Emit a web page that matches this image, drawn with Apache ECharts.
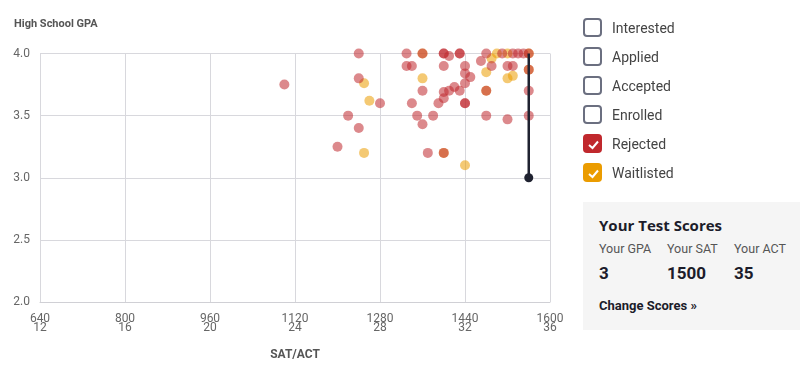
<!DOCTYPE html>
<html>
<head>
<meta charset="utf-8">
<script src="https://cdn.jsdelivr.net/npm/echarts@6/dist/echarts.min.js"></script>
<style>
  body { margin: 0; background: #fff; font-family: Roboto, "Noto Sans", sans-serif; }
  #chart { position: absolute; left: 0; top: 0; width: 807px; height: 375px; }
  .legend { position: absolute; left: 583px; top: 13px; }
  .legend .row { height: 29px; display: flex; align-items: center; color: #444; font-size: 14px; }
  .box { width: 15px; height: 15px; border: 2px solid #6b6f80; border-radius: 4px; margin-right: 10px; position: relative; }
  .box.on { border-color: transparent; }
  .box svg { position: absolute; left: 1px; top: 1px; }
  .scores { position: absolute; left: 583px; top: 202px; width: 217px; height: 128px; background: #f5f5f5; }
  .scores .t { position: absolute; left: 16px; top: 13px; font-size: 15px; font-weight: bold; color: #1c1c2a; font-family: "Open Sans", Roboto, sans-serif; }
  .scores .c { position: absolute; top: 39px; font-size: 12.5px; color: #555; }
  .scores .v { position: absolute; top: 61px; font-size: 17px; font-weight: bold; color: #1c1c2a; }
  .scores .chg { position: absolute; left: 16px; top: 96px; font-size: 13px; font-weight: bold; color: #1c1c2a; }
</style>
</head>
<body>
<div id="chart"></div>
<div class="legend" id="legend"></div>
<div class="scores">
  <div class="t">Your Test Scores</div>
  <div class="c" style="left:16px">Your GPA</div>
  <div class="c" style="left:84px">Your SAT</div>
  <div class="c" style="left:151px">Your ACT</div>
  <div class="v" id="vGpa" style="left:16px"></div>
  <div class="v" id="vSat" style="left:84px"></div>
  <div class="v" id="vAct" style="left:151px"></div>
  <div class="chg">Change Scores »</div>
</div>
<script>
// legend entries and which are checked
var legendNames = ['Interested', 'Applied', 'Accepted', 'Enrolled', 'Rejected', 'Waitlisted'];
var legendOn = [false, false, false, false, true, true];
var legendColors = ['', '', '', '', '#c0282d', '#eb9c00'];

// axis ticks
var satTicks = [640, 800, 960, 1120, 1280, 1440, 1600];
var actTicks = [12, 16, 20, 24, 28, 32, 36];

// your scores
var yourGpa = 3;
var yourSat = 1500;
var yourAct = 35;

// rejected applicants [SAT, GPA]
var rejected = [
  [1100, 3.75], [1240, 4.0], [1330, 4.0], [1360, 4.0], [1400, 4.0], [1400, 4.0],
  [1410, 3.98], [1430, 4.0], [1430, 4.0], [1480, 4.0], [1510, 4.0], [1530, 4.0],
  [1540, 4.0], [1550, 4.0], [1560, 4.0], [1470, 3.94], [1240, 3.8], [1330, 3.9],
  [1340, 3.9], [1400, 3.9], [1440, 3.9], [1490, 3.9], [1520, 3.9], [1530, 3.9],
  [1560, 3.87], [1440, 3.84], [1450, 3.81], [1440, 3.76], [1420, 3.73], [1360, 3.7],
  [1410, 3.7], [1430, 3.7], [1480, 3.7], [1560, 3.7], [1400, 3.69], [1400, 3.64],
  [1280, 3.6], [1340, 3.6], [1390, 3.6], [1440, 3.6], [1440, 3.6], [1220, 3.5],
  [1350, 3.5], [1380, 3.5], [1480, 3.5], [1520, 3.47], [1560, 3.5], [1240, 3.4],
  [1360, 3.43], [1200, 3.25], [1370, 3.2], [1400, 3.2]
];

// waitlisted applicants [SAT, GPA]
var waitlisted = [
  [1250, 3.76], [1260, 3.62], [1250, 3.2], [1360, 4.0], [1500, 4.0], [1520, 4.0],
  [1560, 4.0], [1490, 3.96], [1560, 3.87], [1480, 3.85], [1360, 3.8], [1530, 3.82],
  [1520, 3.8], [1480, 3.7], [1400, 3.2], [1440, 3.1]
];

// legend (html)
var legHtml = '';
legendNames.forEach(function (n, i) {
  var box = legendOn[i]
    ? '<div class="box on" style="background:' + legendColors[i] + '"><svg width="15" height="15"><polyline points="3,8 6.5,11 12,4.5" fill="none" stroke="#fff" stroke-width="2"/></svg></div>'
    : '<div class="box"></div>';
  legHtml += '<div class="row">' + box + n + '</div>';
});
document.getElementById('legend').innerHTML = legHtml;
document.getElementById('vGpa').textContent = yourGpa;
document.getElementById('vSat').textContent = yourSat;
document.getElementById('vAct').textContent = yourAct;

// ACT converted onto SAT scale, use the higher one
var actAsSat = satTicks[0] + (yourAct - actTicks[0]) * (satTicks[1] - satTicks[0]) / (actTicks[1] - actTicks[0]);
var youX = Math.max(yourSat, actAsSat);

var chart = echarts.init(document.getElementById('chart'));
chart.setOption({
  animation: false,
  textStyle: { fontFamily: 'Roboto' },
  title: {
    text: 'High School GPA', left: 14, top: 19, padding: 0,
    textStyle: { fontSize: 11, fontWeight: 'bold', color: '#555' }
  },
  grid: { left: 40, right: 257, top: 53.5, bottom: 73, containLabel: false, outerBoundsMode: 'none' },
  xAxis: {
    type: 'value', min: 640, max: 1600, interval: 160,
    name: 'SAT/ACT', nameLocation: 'middle', nameGap: 47,
    nameTextStyle: { fontSize: 12, fontWeight: 'bold', color: '#555' },
    axisLine: { show: true, lineStyle: { color: '#d0d0d5' } },
    axisTick: { show: false },
    splitLine: { show: true, lineStyle: { color: '#d8d8dd' } },
    axisLabel: {
      color: '#666', fontSize: 12, lineHeight: 9, margin: 12,
      formatter: function (v) {
        var i = satTicks.indexOf(v);
        return v + '\n' + actTicks[i];
      }
    }
  },
  yAxis: {
    type: 'value', min: 2, max: 4, interval: 0.5,
    axisLine: { show: false },
    axisTick: { show: false },
    splitLine: { show: true, lineStyle: { color: '#d8d8dd' } },
    axisLabel: { color: '#666', fontSize: 12, margin: 10, formatter: function (v) { return v.toFixed(1); } }
  },
  series: [
    {
      name: 'Waitlisted', type: 'scatter', data: waitlisted, symbolSize: 10,
      itemStyle: { color: '#eb9c00', opacity: 0.55 }
    },
    {
      name: 'Rejected', type: 'scatter', data: rejected, symbolSize: 10,
      itemStyle: { color: '#c0282d', opacity: 0.55 }
    },
    {
      name: 'You', type: 'line', z: 5,
      data: [
        { value: [youX, yourGpa], symbol: 'circle', symbolSize: 9 },
        { value: [youX, 4], symbol: 'none',
          label: { show: true, position: 'top', formatter: 'You', distance: 6,
                   fontSize: 11, fontWeight: 'bold', color: '#222' } }
      ],
      lineStyle: { color: '#1f2230', width: 2.5 },
      itemStyle: { color: '#1f2230' }
    }
  ]
});
</script>
</body>
</html>
